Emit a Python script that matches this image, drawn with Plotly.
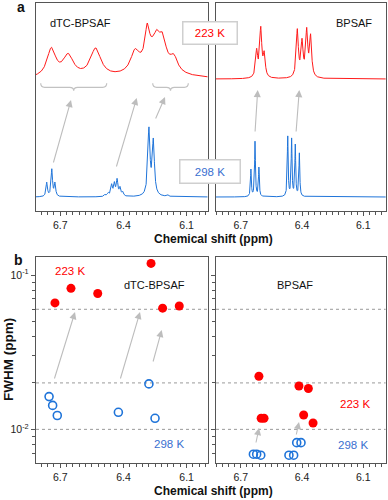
import numpy as np
import plotly.graph_objects as go

# ---------------- data ----------------
# Panel a: spectra as peak lists  (position ppm, height, line width ppm)
DTC298_POS = [6.764, 6.740, 6.725, 6.487, 6.472, 6.456, 6.443, 6.430, 6.416, 6.403, 6.279, 6.258, 6.190]
DTC298_HGT = [14, 27, 13, 2, 3, 11, 12, 16, 8, 4, 66, 54, 1.5]
DTC298_WID = [0.008, 0.008, 0.008, 0.01, 0.009, 0.009, 0.009, 0.009, 0.009, 0.009, 0.012, 0.012, 0.01]

DTC223_POS = [6.742, 6.662, 6.532, 6.345, 6.287, 6.240, 6.212, 6.160, 6.245]
DTC223_HGT = [28, 21, 28, 20, 30, 10, 17, 13, 32]
DTC223_WID = [0.05, 0.06, 0.06, 0.05, 0.025, 0.03, 0.03, 0.04, 0.11]

BPS298_POS = [6.650, 6.630, 6.611, 6.470, 6.451, 6.433, 6.413]
BPS298_HGT = [27, 55, 29, 60, 57, 51, 43]
BPS298_WID = [0.005, 0.005, 0.005, 0.005, 0.005, 0.005, 0.005]

BPS223_POS = [6.622, 6.602, 6.585, 6.423, 6.400, 6.377, 6.358]
BPS223_HGT = [26, 48, 22, 47, 34, 45, 40]
BPS223_WID = [0.012, 0.012, 0.012, 0.012, 0.012, 0.012, 0.012]

# Panel b: FWHM (ppm) versus chemical shift (ppm)
DTC_223_PPM = [6.725, 6.649, 6.522, 6.269, 6.214, 6.135]
DTC_223_FWHM = [0.066, 0.082, 0.076, 0.119, 0.061, 0.063]
DTC_298_PPM = [6.753, 6.736, 6.714, 6.424, 6.279, 6.250]
DTC_298_FWHM = [0.0163, 0.0143, 0.0123, 0.0129, 0.0197, 0.0118]
BPS_223_PPM = [6.611, 6.600, 6.586, 6.415, 6.392, 6.369, 6.346]
BPS_223_FWHM = [0.0221, 0.0118, 0.0118, 0.0191, 0.0124, 0.0184, 0.0110]
BPS_298_PPM = [6.638, 6.622, 6.602, 6.464, 6.441, 6.426, 6.405]
BPS_298_FWHM = [0.0069, 0.0069, 0.0068, 0.0068, 0.0068, 0.0082, 0.0082]
GRID_FWHM = [0.01, 0.02, 0.06]

X_TICKS = [6.7, 6.4, 6.1]
Y_TICKS = [0.01, 0.1]
Y_TICKTEXT = ["10<sup>-2</sup>", "10<sup>-1</sup>"]
Y_MINOR = [0.006, 0.007, 0.008, 0.009, 0.02, 0.03, 0.04, 0.05, 0.06, 0.07, 0.08, 0.09]

# ---------------- styling / layout constants ----------------
W, H = 388, 500
RED = "#ff1a1a"
BLUE = "#1f74d9"
BLUE_TXT = "#3a6fd0"
FRAME = "#555555"
GREY = "#c2c2c2"
FONT = "Liberation Sans, Arial, sans-serif"
BLUE_OFFSET = 14
RED_OFFSET = 132
XL_RANGE = [6.815, 6.0]
XR_RANGE = [6.821, 5.99]


def px(x):
    return x / W


def py(y):
    return 1 - y / H


def spectrum(grid, pos, hgt, wid):
    out = np.zeros_like(grid)
    for p, h, w in zip(pos, hgt, wid):
        out += h / (1 + ((grid - p) / (w / 2)) ** 2)
    return out


gl = np.linspace(XL_RANGE[1], XL_RANGE[0], 2500)
gr = np.linspace(XR_RANGE[1], XR_RANGE[0], 2500)

fig = go.Figure()

# panel a traces
fig.add_trace(go.Scatter(x=gl, y=spectrum(gl, DTC223_POS, DTC223_HGT, DTC223_WID) + RED_OFFSET,
                         mode="lines", line=dict(color=RED, width=1), xaxis="x", yaxis="y"))
fig.add_trace(go.Scatter(x=gl, y=spectrum(gl, DTC298_POS, DTC298_HGT, DTC298_WID) + BLUE_OFFSET,
                         mode="lines", line=dict(color=BLUE, width=1), xaxis="x", yaxis="y"))
fig.add_trace(go.Scatter(x=gr, y=spectrum(gr, BPS223_POS, BPS223_HGT, BPS223_WID) + RED_OFFSET,
                         mode="lines", line=dict(color=RED, width=1), xaxis="x2", yaxis="y2"))
fig.add_trace(go.Scatter(x=gr, y=spectrum(gr, BPS298_POS, BPS298_HGT, BPS298_WID) + BLUE_OFFSET,
                         mode="lines", line=dict(color=BLUE, width=1), xaxis="x2", yaxis="y2"))

# panel b grid lines
for g in GRID_FWHM:
    fig.add_trace(go.Scatter(x=XL_RANGE, y=[g, g], mode="lines",
                             line=dict(color="#9a9a9a", width=1, dash="dot"), xaxis="x3", yaxis="y3"))
    fig.add_trace(go.Scatter(x=XR_RANGE, y=[g, g], mode="lines",
                             line=dict(color="#9a9a9a", width=1, dash="dot"), xaxis="x4", yaxis="y4"))

# panel b markers
fig.add_trace(go.Scatter(x=DTC_223_PPM, y=DTC_223_FWHM, mode="markers",
                         marker=dict(color="#ff0000", size=9), xaxis="x3", yaxis="y3"))
fig.add_trace(go.Scatter(x=DTC_298_PPM, y=DTC_298_FWHM, mode="markers",
                         marker=dict(color="rgba(0,0,0,0)", size=8, line=dict(color=BLUE, width=1.6)),
                         xaxis="x3", yaxis="y3"))
fig.add_trace(go.Scatter(x=BPS_223_PPM, y=BPS_223_FWHM, mode="markers",
                         marker=dict(color="#ff0000", size=9), xaxis="x4", yaxis="y4"))
fig.add_trace(go.Scatter(x=BPS_298_PPM, y=BPS_298_FWHM, mode="markers",
                         marker=dict(color="rgba(0,0,0,0)", size=8, line=dict(color=BLUE, width=1.6)),
                         xaxis="x4", yaxis="y4"))

xl_dom = [px(36), px(207.7)]
xr_dom = [px(216), px(385.8)]
ya_dom = [py(211), py(3)]
yb_dom = [py(463), py(257)]

tickfont = dict(family=FONT, size=10.5, color="#222")


def xaxis(dom, anchor, rng):
    return dict(domain=dom, anchor=anchor, range=rng, tickvals=X_TICKS, ticks="outside", ticklen=4,
                tickwidth=1, tickcolor=FRAME, showline=True, mirror=True, linecolor=FRAME, linewidth=1.4,
                showgrid=False, zeroline=False, tickfont=tickfont,
                minor=dict(ticks="outside", ticklen=2.5, dtick=0.03, tick0=6.1, tickcolor=FRAME, showgrid=False))


def yaxis_a(anchor):
    return dict(domain=ya_dom, anchor=anchor, range=[0, 208], showticklabels=False, ticks="",
                showline=True, mirror=True, linecolor=FRAME, linewidth=1.4, showgrid=False, zeroline=False)


def yaxis_b(anchor, labels):
    return dict(domain=yb_dom, anchor=anchor, type="log", range=[-2.218, -0.883],
                tickvals=Y_TICKS, ticktext=Y_TICKTEXT, showticklabels=labels, ticks="outside", ticklen=4,
                tickcolor=FRAME, showline=True, mirror=True, linecolor=FRAME, linewidth=1.4,
                showgrid=False, zeroline=False, tickfont=tickfont,
                minor=dict(tickvals=Y_MINOR, ticks="outside", ticklen=2.5, tickcolor=FRAME, showgrid=False))


ann = []


def text(x, y, s, size=11, color="#111", bold=False, **kw):
    if bold:
        s = "<b>" + s + "</b>"
    ann.append(dict(x=px(x), y=py(y), xref="paper", yref="paper", text=s, showarrow=False,
                    font=dict(family=FONT, size=size, color=color), xanchor="center", yanchor="middle", **kw))


def arrow(tx, ty, hx, hy):
    ann.append(dict(x=px(hx), y=py(hy), xref="paper", yref="paper", text="", showarrow=True,
                    ax=tx - hx, ay=ty - hy, arrowhead=2, arrowsize=1.3, arrowwidth=1.1,
                    arrowcolor="#bdbdbd", standoff=0, startstandoff=0))


# labels panel a
text(21, 7, "a", size=14, bold=True)
text(80, 23, "dTC-BPSAF", size=11)
text(354, 23, "BPSAF", size=11)
text(210.5, 33.5, "223 K", size=11.5, color="#ff0000", bgcolor="white", bordercolor="#cfcfcf",
     borderwidth=1.5, width=51, height=19, borderpad=1)
text(209.5, 171, "298 K", size=11.5, color=BLUE_TXT, bgcolor="white", bordercolor="#cfcfcf",
     borderwidth=1.5, width=57, height=20, borderpad=1)
text(213, 239, "Chemical shift (ppm)", size=12, bold=True)
# labels panel b
text(18, 260, "b", size=14, bold=True)
text(70, 271, "223 K", size=11.5, color="#ff0000")
text(154, 285, "dTC-BPSAF", size=11)
text(169, 444, "298 K", size=11.5, color=BLUE_TXT)
text(295, 285, "BPSAF", size=11)
text(355, 404, "223 K", size=11.5, color="#ff0000")
text(353, 445, "298 K", size=11.5, color=BLUE_TXT)
text(213, 491, "Chemical shift (ppm)", size=12, bold=True)
text(8, 360, "FWHM (ppm)", size=13.5, bold=True, textangle=-90)

# arrows panel a
arrow(53, 164, 71, 100)
arrow(116, 168, 136.7, 98)
arrow(155, 120, 165, 97)
arrow(255, 133, 257.7, 90)
arrow(296, 133, 299.3, 90)
# arrows panel b
arrow(54, 380, 75, 312)
arrow(120, 380, 140, 312)
arrow(152.7, 363, 161.7, 330)
arrow(255.7, 444, 259, 428)
arrow(296, 436, 299, 422)


def brace(x0, x1, ytop=83.3, ymid=87.3, ybot=90.7, r=4):
    xm = (x0 + x1) / 2
    pts = [
        f"M {px(x0)},{py(ytop)}",
        f"Q {px(x0)},{py(ymid)} {px(x0 + r)},{py(ymid)}",
        f"L {px(xm - r)},{py(ymid)}",
        f"Q {px(xm)},{py(ymid)} {px(xm)},{py(ybot)}",
        f"Q {px(xm)},{py(ymid)} {px(xm + r)},{py(ymid)}",
        f"L {px(x1 - r)},{py(ymid)}",
        f"Q {px(x1)},{py(ymid)} {px(x1)},{py(ytop)}",
    ]
    return dict(type="path", path=" ".join(pts), xref="paper", yref="paper",
                line=dict(color=GREY, width=1.2))


shapes = [brace(40.7, 106.7), brace(152.7, 188.3)]

fig.update_layout(
    width=W, height=H, margin=dict(l=0, r=0, t=0, b=0, autoexpand=False),
    paper_bgcolor="white", plot_bgcolor="white", showlegend=False, hovermode=False,
    font=dict(family=FONT),
    xaxis=xaxis(xl_dom, "y", XL_RANGE), yaxis=yaxis_a("x"),
    xaxis2=xaxis(xr_dom, "y2", XR_RANGE), yaxis2=yaxis_a("x2"),
    xaxis3=xaxis(xl_dom, "y3", XL_RANGE), yaxis3=yaxis_b("x3", True),
    xaxis4=xaxis(xr_dom, "y4", XR_RANGE), yaxis4=yaxis_b("x4", False),
    annotations=ann, shapes=shapes,
)

fig.write_html("out.html", config={"displayModeBar": False},
               post_script="document.body.style.margin='0';document.body.style.overflow='hidden';")
